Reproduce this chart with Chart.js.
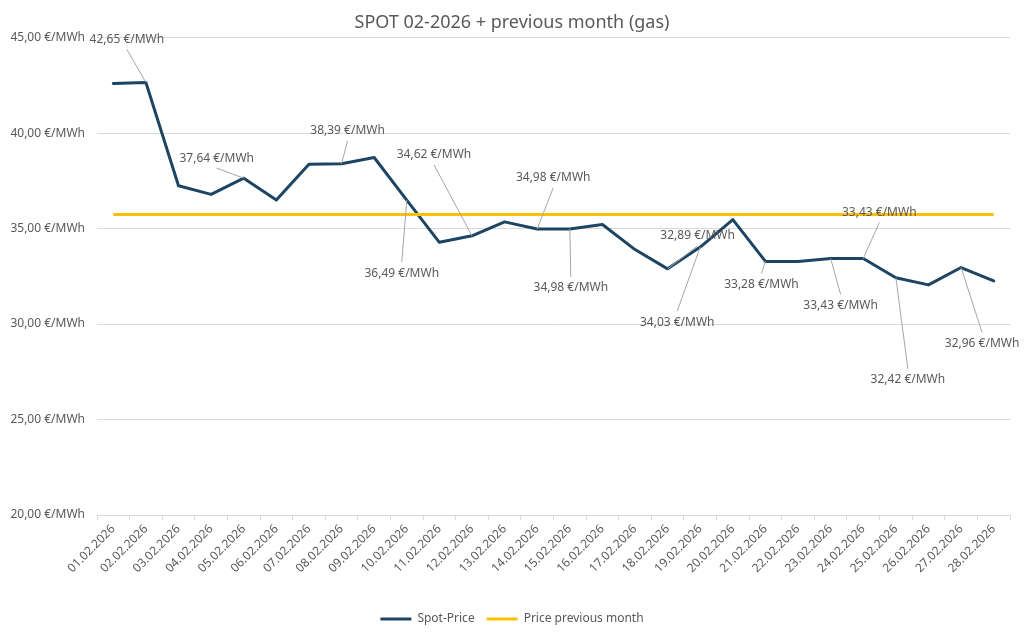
<!DOCTYPE html>
<html>
<head>
<meta charset="utf-8">
<title>SPOT 02-2026 + previous month (gas)</title>
<script src="https://cdn.jsdelivr.net/npm/chart.js@4"></script>
<style>
  body { margin: 0; background: #ffffff; }
  #wrap { width: 1024px; height: 640px; }
</style>
</head>
<body>
<div id="wrap"><canvas id="myChart"></canvas></div>
<script>
const days = [
    '01.02.2026', '02.02.2026', '03.02.2026', '04.02.2026', '05.02.2026', '06.02.2026', '07.02.2026',
    '08.02.2026', '09.02.2026', '10.02.2026', '11.02.2026', '12.02.2026', '13.02.2026', '14.02.2026',
    '15.02.2026', '16.02.2026', '17.02.2026', '18.02.2026', '19.02.2026', '20.02.2026', '21.02.2026',
    '22.02.2026', '23.02.2026', '24.02.2026', '25.02.2026', '26.02.2026', '27.02.2026', '28.02.2026'
];

const spotPrice = [
    42.60, 42.65, 37.24, 36.79, 37.64, 36.49, 38.37,
    38.39, 38.72, 36.49, 34.28, 34.62, 35.35, 34.98,
    34.98, 35.21, 33.90, 32.89, 34.03, 35.47, 33.28,
    33.28, 33.43, 33.43, 32.42, 32.05, 32.96, 32.26
];

const previousMonthPrice = [
    35.74, 35.74, 35.74, 35.74, 35.74, 35.74, 35.74,
    35.74, 35.74, 35.74, 35.74, 35.74, 35.74, 35.74,
    35.74, 35.74, 35.74, 35.74, 35.74, 35.74, 35.74,
    35.74, 35.74, 35.74, 35.74, 35.74, 35.74, 35.74
];

// which points of the spot series carry a value label
const labelledDays = [1, 4, 7, 9, 11, 13, 14, 17, 18, 20, 22, 23, 24, 26];

const yTicks = [20, 25, 30, 35, 40, 45];

const FONT = '"Noto Sans", sans-serif';
const GREY = '#595959';

function euro(v) {
    return v.toFixed(2).replace('.', ',') + ' €/MWh';
}

// label offsets (px) from the point, the way they were dragged in the original
const labelOffsets = {
    1: [-19, -43], 4: [-27, -20], 7: [6, -33], 9: [-5, 73], 11: [-38, -81],
    13: [16, -51], 14: [1, 59], 17: [30, -33], 18: [-23, 75], 20: [-4, 23],
    22: [10, 47], 23: [16, -46], 24: [12, 102], 26: [21, 76]
};

const leaderLabels = {
    id: 'leaderLabels',
    afterDatasetsDraw(chart) {
        const ctx = chart.ctx;
        const meta = chart.getDatasetMeta(0);
        ctx.save();
        ctx.font = '12px ' + FONT;
        ctx.textAlign = 'center';
        ctx.textBaseline = 'middle';
        labelledDays.forEach(i => {
            const pt = meta.data[i];
            const off = labelOffsets[i];
            const lx = pt.x + off[0];
            const ly = pt.y + off[1];
            const startY = off[1] < 0 ? ly + 10 : ly - 11;
            if (Math.hypot(pt.x - lx, pt.y - startY) > 6) {
                ctx.strokeStyle = '#a6a6a6';
                ctx.lineWidth = 1;
                ctx.beginPath();
                ctx.moveTo(lx, startY);
                ctx.lineTo(pt.x, pt.y);
                ctx.stroke();
            }
            ctx.fillStyle = GREY;
            ctx.fillText(euro(spotPrice[i]), lx, ly);
        });
        ctx.restore();
    }
};

const ctx = document.getElementById('myChart').getContext('2d');
new Chart(ctx, {
    type: 'line',
    data: {
        labels: days,
        datasets: [
            {
                label: 'Spot-Price',
                data: spotPrice,
                borderColor: '#1d4563',
                backgroundColor: '#1d4563',
                borderWidth: 3,
                pointRadius: 0,
                tension: 0,
                borderJoinStyle: 'round',
                borderCapStyle: 'round',
                order: 1
            },
            {
                label: 'Price previous month',
                data: previousMonthPrice,
                borderColor: '#ffc000',
                backgroundColor: '#ffc000',
                borderWidth: 3,
                pointRadius: 0,
                tension: 0,
                order: 0
            }
        ]
    },
    options: {
        responsive: true,
        maintainAspectRatio: false,
        animation: false,
        layout: { padding: { left: 0, right: 0, top: 0, bottom: 5 } },
        plugins: {
            title: {
                display: true,
                text: 'SPOT 02-2026 + previous month (gas)',
                color: GREY,
                font: { family: FONT, size: 18, weight: 'normal' },
                padding: { top: 12, bottom: 4 }
            },
            legend: {
                position: 'bottom',
                labels: {
                    color: GREY,
                    font: { family: FONT, size: 12 },
                    boxWidth: 31,
                    boxHeight: 3,
                    padding: 12,
                    sort: (a, b) => a.datasetIndex - b.datasetIndex,
                    generateLabels: chart => {
                        const items = Chart.defaults.plugins.legend.labels.generateLabels(chart);
                        items.forEach(it => { it.lineWidth = 0; });
                        return items;
                    }
                }
            },
            tooltip: { enabled: false }
        },
        scales: {
            x: {
                offset: true,
                grid: {
                    offset: true,
                    drawOnChartArea: false,
                    color: '#d9d9d9',
                    tickLength: 5
                },
                border: { color: '#d9d9d9' },
                ticks: {
                    color: GREY,
                    font: { family: FONT, size: 12 },
                    minRotation: 45,
                    maxRotation: 45,
                    autoSkip: false,
                    padding: 2
                },
                afterFit: s => { s.height = 86; }
            },
            y: {
                min: 20,
                max: 45,
                afterBuildTicks: s => { s.ticks = yTicks.map(v => ({ value: v })); },
                grid: { color: '#d9d9d9', drawTicks: false },
                border: { display: false },
                ticks: {
                    color: GREY,
                    font: { family: FONT, size: 12 },
                    padding: 12,
                    callback: v => euro(v)
                },
                afterFit: s => { s.width = 97; }
            },
            // empty strip on the right so the plot ends where the original does
            yRight: {
                position: 'right',
                min: 0,
                max: 1,
                grid: { display: false },
                border: { display: false },
                ticks: { display: false },
                afterFit: s => { s.width = 14; }
            }
        }
    },
    plugins: [leaderLabels]
});
</script>
</body>
</html>
